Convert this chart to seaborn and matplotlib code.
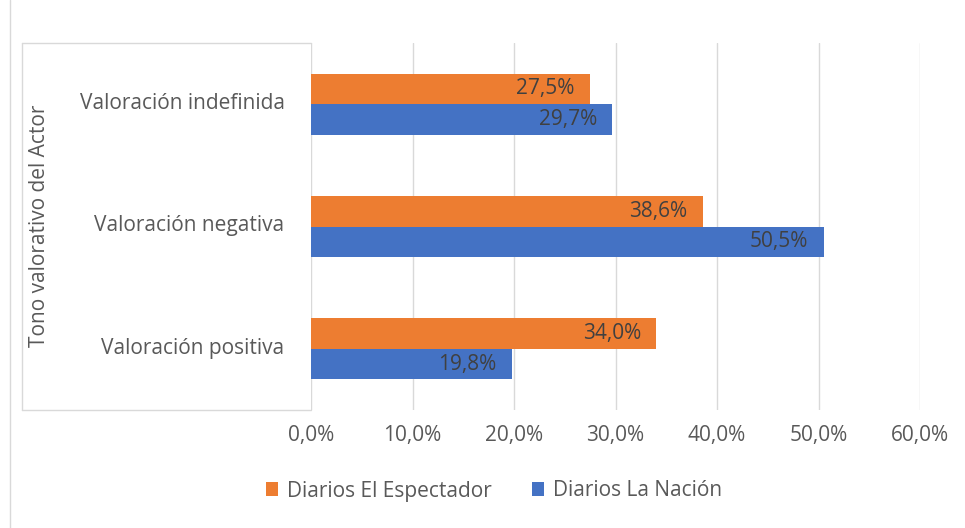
import matplotlib
matplotlib.use("Agg")
import matplotlib.pyplot as plt
from matplotlib.lines import Line2D
from matplotlib.patches import Patch
from matplotlib.ticker import FuncFormatter
from matplotlib.transforms import ScaledTranslation
import seaborn as sns
import pandas as pd

categorias = ["Valoración indefinida", "Valoración negativa", "Valoración positiva"]
series = ["Diarios El Espectador", "Diarios La Nación"]
espectador = [0.275, 0.386, 0.340]
nacion = [0.297, 0.505, 0.198]
colores = ["#ED7D31", "#4472C4"]

df = pd.DataFrame({
    "categoria": categorias * 2,
    "serie": [series[0]] * 3 + [series[1]] * 3,
    "valor": espectador + nacion,
})

sns.set_theme(style="white")
plt.rcParams["font.family"] = ["Open Sans", "DejaVu Sans"]
gris = "#595959"
fs = 15

fig = plt.figure(figsize=(9.65, 5.28), dpi=100)
ax = fig.add_axes([311 / 965, 1 - 410 / 528, (920 - 311) / 965, (410 - 43) / 528])

sns.barplot(data=df, y="categoria", x="valor", hue="serie", order=categorias,
            hue_order=series, palette=colores, orient="h", width=0.5,
            linewidth=0, saturation=1, legend=False, ax=ax)

ax.set_xlim(0, 0.6)
ax.set_xticks([0, 0.1, 0.2, 0.3, 0.4, 0.5, 0.6])
ax.xaxis.set_major_formatter(FuncFormatter(lambda v, p: f"{v * 100:.1f}%".replace(".", ",")))
ax.grid(axis="x", color="#d9d9d9", linewidth=1)
ax.set_axisbelow(True)
for s in ax.spines.values():
    s.set_visible(False)
ax.set_xlabel("")
ax.set_ylabel("")
ax.tick_params(axis="x", length=0, pad=11, labelsize=fs, labelcolor=gris)
ax.tick_params(axis="y", length=0, pad=19, labelsize=fs, labelcolor=gris)
for lab in ax.get_yticklabels():
    lab.set_transform(lab.get_transform() + ScaledTranslation(0, 3 / 100, fig.dpi_scale_trans))

# etiquetas de datos dentro del extremo de la barra
for cont in ax.containers:
    labels = [f"{b.get_width() * 100:.1f}%".replace(".", ",") for b in cont]
    txts = ax.bar_label(cont, labels=labels, label_type="edge", padding=-11,
                        fontsize=fs, color="#404040")
    for t in txts:
        t.set_ha("right")

# caja del eje de categorias (estilo Excel)
linea = dict(color="#d9d9d9", linewidth=1, transform=fig.transFigure)
fig.add_artist(Line2D([22 / 965, 22 / 965], [1 - 43 / 528, 1 - 410 / 528], **linea))
fig.add_artist(Line2D([22 / 965, 311 / 965], [1 - 43 / 528, 1 - 43 / 528], **linea))
fig.add_artist(Line2D([22 / 965, 311 / 965], [1 - 410 / 528, 1 - 410 / 528], **linea))
fig.add_artist(Line2D([10 / 965, 10 / 965], [0, 1], **linea))

fig.text(40 / 965, 1 - 226 / 528, "Tono valorativo del Actor", rotation=90,
         ha="center", va="center", fontsize=fs, color=gris)

handles = [Patch(facecolor=c, edgecolor="none") for c in colores]
fig.legend(handles, series, loc="center", bbox_to_anchor=(494 / 965, 1 - 491 / 528),
           ncol=2, frameon=False, fontsize=fs, labelcolor=gris,
           handlelength=0.58, handleheight=0.63, handletextpad=0.45, columnspacing=1.9)

fig.savefig("out.png", dpi=100)
